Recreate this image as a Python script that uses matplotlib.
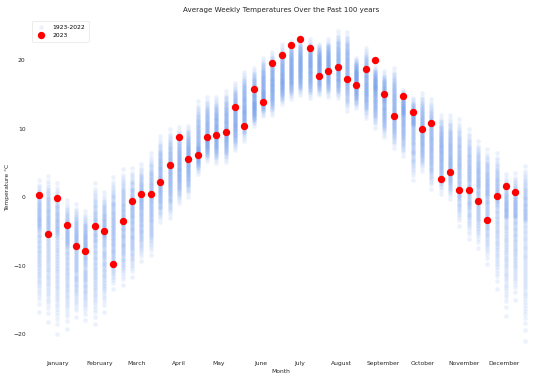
import numpy as np
import matplotlib
matplotlib.use("Agg")
import matplotlib.pyplot as plt
from statistics import NormalDist

# ---- data ----
weeks_hist = list(range(53))
# per-week spread of 1923-2022 weekly means (lowest, typical, highest), °C
hist_low = [-16.8, -18.2, -20.0, -19.2, -17.5, -18.0, -18.6, -16.8, -13.4, -12.8,
            -11.7, -9.4, -8.5, -3.7, -3.1, -0.9, 0.0, 3.4, 5.3, 5.0,
            5.1, 6.8, 8.2, 10.4, 11.8, 12.0, 13.6, 14.3, 14.9, 14.4,
            14.8, 14.6, 14.4, 12.5, 13.0, 11.5, 10.1, 8.7, 7.1, 5.9,
            2.4, 3.8, 1.2, 0.5, -0.3, -4.2, -6.2, -7.4, -9.8, -13.4,
            -17.4, -15.0, -21.1]
hist_mid = [-4.5, -5.0, -5.5, -7.0, -7.5, -8.0, -6.5, -6.0, -5.0, -4.0,
            -3.0, -1.5, -0.5, 2.5, 3.5, 4.5, 5.5, 7.5, 9.0, 9.5,
            10.0, 11.5, 13.0, 14.0, 15.5, 16.5, 17.5, 18.5, 19.0, 19.0,
            18.8, 19.0, 18.8, 18.5, 17.0, 16.5, 15.5, 14.0, 13.0, 12.0,
            10.5, 9.5, 8.0, 6.5, 5.5, 4.0, 2.5, 1.5, 0.0, -1.0,
            -3.0, -3.0, -3.5]
hist_high = [2.5, 3.1, 2.1, -0.4, -1.0, -2.0, 2.1, 0.8, 3.0, 4.1,
             4.3, 4.9, 6.5, 8.9, 9.9, 10.2, 10.4, 14.0, 14.6, 14.6,
             15.5, 16.7, 18.3, 18.9, 20.3, 21.2, 22.3, 22.8, 23.0, 23.0,
             22.4, 23.0, 24.2, 24.1, 20.3, 21.8, 19.1, 18.4, 18.9, 15.7,
             14.5, 15.2, 14.4, 12.0, 12.0, 11.4, 10.0, 8.2, 7.0, 6.5,
             3.4, 3.5, 4.6]
n_years = 100

weeks_2023 = list(range(52))
temps_2023 = [0.3, -5.4, -0.1, -4.0, -7.1, -7.8, -4.2, -4.9, -9.7, -3.4,
              -0.6, 0.5, 0.4, 2.2, 4.7, 8.7, 5.5, 6.2, 8.8, 9.0,
              9.5, 13.2, 10.4, 15.8, 13.8, 19.6, 20.7, 22.2, 23.0, 21.7,
              17.7, 18.4, 18.9, 17.2, 16.4, 18.7, 20.0, 15.1, 11.9, 14.8,
              12.4, 10.0, 10.8, 2.6, 3.7, 1.1, 1.1, -0.5, -3.3, 0.1,
              1.7, 0.8]

month_names = ["January", "February", "March", "April", "May", "June", "July",
               "August", "September", "October", "November", "December"]
month_pos = [2.03, 6.49, 10.52, 14.97, 19.25, 23.72, 27.96, 32.37, 36.83,
             41.1, 45.53, 49.81]

# ---- build the historical cloud: each week spread between its low/typical/high ----
nd = NormalDist()
u = (np.arange(n_years) + 0.5) / n_years
zq = np.array([nd.inv_cdf(p) for p in u])
shape = 0.55 * zq / zq.max() + 0.45 * (2 * u - 1)
hx, hy = [], []
for w, lo, mid, hi in zip(weeks_hist, hist_low, hist_mid, hist_high):
    vals = np.where(shape >= 0, mid + shape * (hi - mid), mid + shape * (mid - lo))
    hx.extend([w] * n_years)
    hy.extend(vals)

# ---- plot ----
fig = plt.figure(figsize=(5.4, 3.8), dpi=100)
ax = fig.add_axes([0.0535, 0.0585, 0.9345, 0.894])

ax.scatter(hx, hy, s=11, color="cornflowerblue", alpha=0.12, linewidths=0,
           label="1923-2022")
ax.scatter(weeks_2023, temps_2023, s=28, color="red", linewidths=0, label="2023",
           zorder=3)

ax.set_xlim(-1.05, 52.95)
ax.set_ylim(-23.4, 26.1)
ax.set_xticks(month_pos)
ax.set_xticklabels(month_names)
ax.set_yticks([-20, -10, 0, 10, 20])
ax.tick_params(axis="both", length=0, labelsize=4.3, pad=2.4, colors="#262626")
for sp in ax.spines.values():
    sp.set_visible(False)

ax.set_title("Average Weekly Temperatures Over the Past 100 years", fontsize=5.1,
             pad=4, color="#262626")
ax.set_xlabel("Month", fontsize=4.3, labelpad=2, color="#262626")
ax.set_ylabel("Temperature °C", fontsize=4.3, labelpad=2, color="#262626")

leg = ax.legend(loc="upper left", fontsize=4.3, frameon=True, borderpad=0.6,
                handletextpad=0.8, markerscale=1.0)
leg.get_frame().set_edgecolor("#dddddd")
leg.get_frame().set_linewidth(0.5)

fig.savefig("out.png", dpi=100)
